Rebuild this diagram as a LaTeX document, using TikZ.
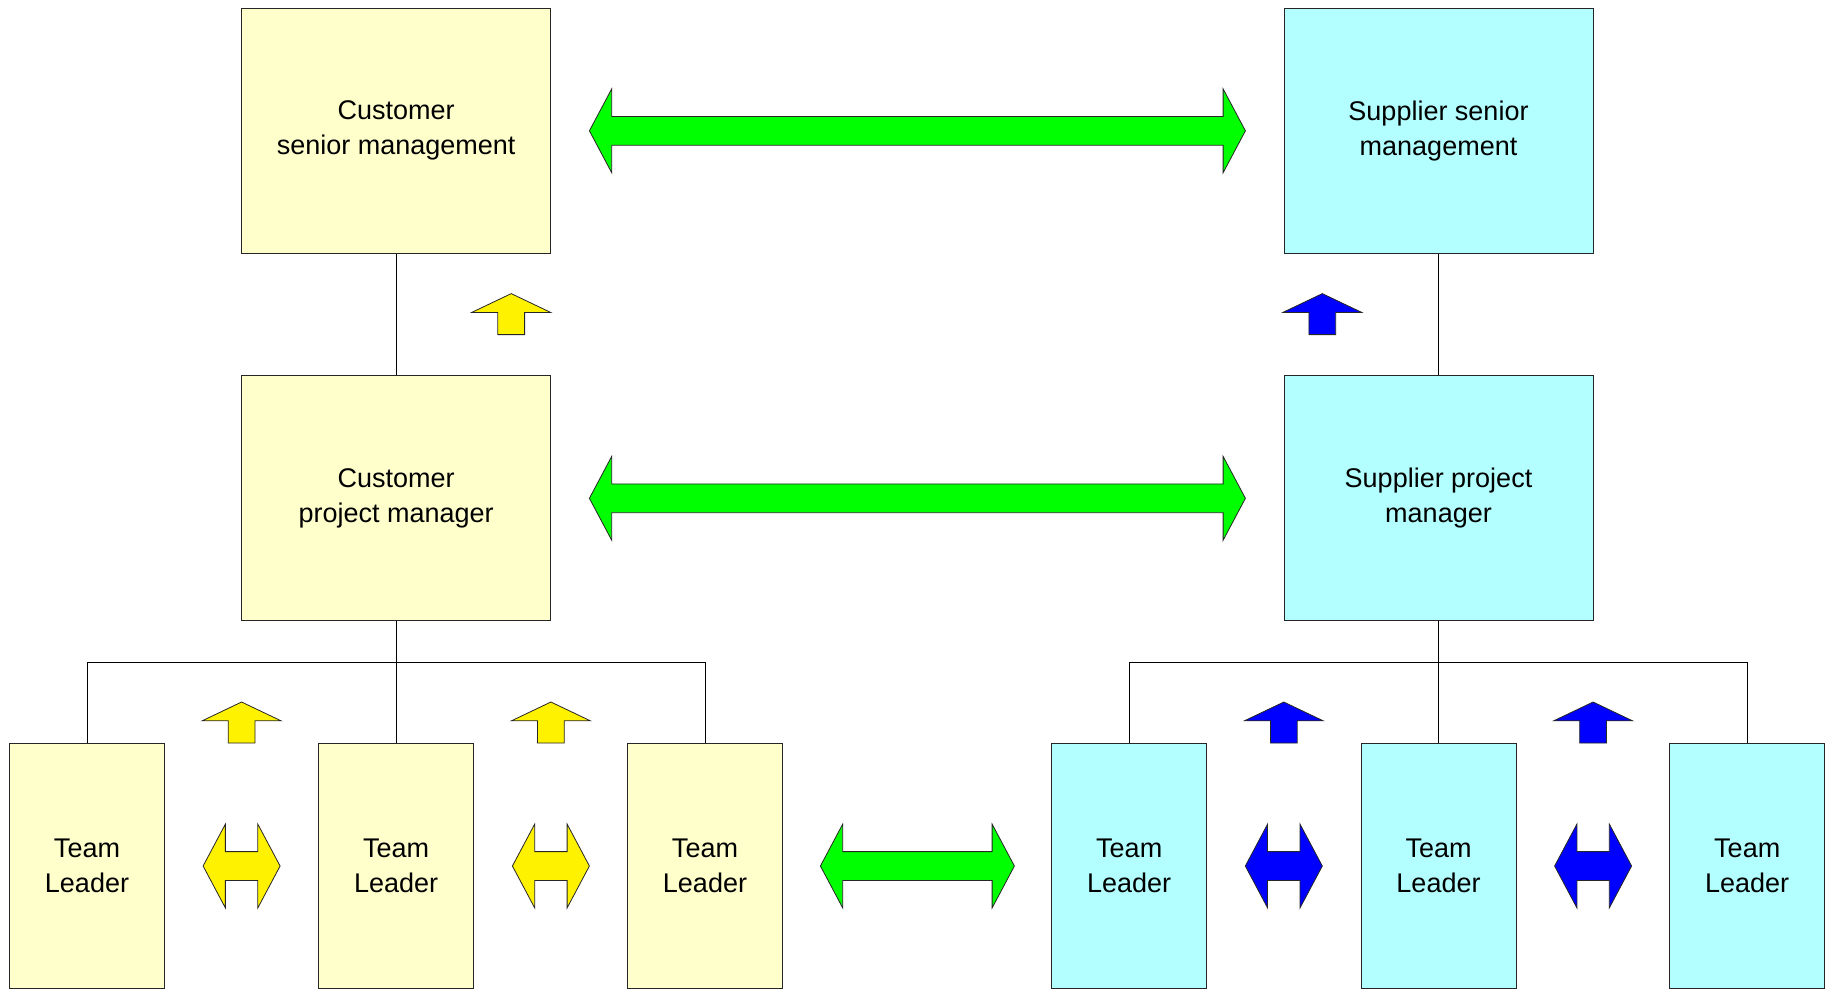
\documentclass[tikz,border=0pt]{standalone}
\usepackage{fontspec}
\setmainfont{Liberation Sans}
\usetikzlibrary{shapes.arrows}

\definecolor{custyellow}{RGB}{255,255,204}
\definecolor{supcyan}{RGB}{179,255,255}
\definecolor{arrgreen}{RGB}{0,255,0}

\tikzset{
  box/.style={draw=black!85,line width=0.8pt,inner sep=0pt,align=center,
    font=\fontsize{27}{35}\selectfont},
  bigbox/.style={box,minimum width=309pt,minimum height=245pt},
  tlbox/.style={box,minimum width=155pt,minimum height=245pt},
  twoway/.style={double arrow,draw=black!85,line width=0.8pt,inner xsep=0pt,inner ysep=14pt,
    double arrow head extend=27.5pt,double arrow tip angle=124},
  upway/.style={single arrow,draw=black!85,line width=0.8pt,inner xsep=0pt,inner ysep=13pt,rotate=90,
    anchor=tail,minimum height=41pt,single arrow head extend=26pt,single arrow tip angle=129}
}

\begin{document}
\begin{tikzpicture}[x=1pt,y=-1pt]
	\useasboundingbox (0,0) rectangle (1830,989);
	% customer side
	\node[bigbox,fill=custyellow] (csm) at (396.2,130.8) {Customer\\senior management};
	\node[bigbox,fill=custyellow] (cpm) at (396.2,498.3) {Customer\\project manager};
	\node[tlbox,fill=custyellow] (ctl1) at (87,866) {Team\\Leader};
	\node[tlbox,fill=custyellow] (ctl2) at (396.2,866) {Team\\Leader};
	\node[tlbox,fill=custyellow] (ctl3) at (705,866) {Team\\Leader};
	% supplier side
	\node[bigbox,fill=supcyan] (ssm) at (1438.5,130.8) {Supplier senior\\management};
	\node[bigbox,fill=supcyan] (spm) at (1438.5,498.3) {Supplier project\\manager};
	\node[tlbox,fill=supcyan] (stl1) at (1129.2,866) {Team\\Leader};
	\node[tlbox,fill=supcyan] (stl2) at (1438.5,866) {Team\\Leader};
	\node[tlbox,fill=supcyan] (stl3) at (1747.2,866) {Team\\Leader};

	% reporting lines
	\draw[line width=0.8pt] (csm) -- (cpm);
	\draw[line width=0.8pt] (cpm) -- (ctl2);
	\draw[line width=0.8pt] (cpm.south) -- ++(0,41.3) coordinate (cbus);
	\draw[line width=0.8pt] (ctl1.north) |- (cbus) -| (ctl3.north);
	\draw[line width=0.8pt] (ssm) -- (spm);
	\draw[line width=0.8pt] (spm) -- (stl2);
	\draw[line width=0.8pt] (spm.south) -- ++(0,41.3) coordinate (sbus);
	\draw[line width=0.8pt] (stl1.north) |- (sbus) -| (stl3.north);

	% links between the two sides
	\node[twoway,fill=arrgreen,minimum height=656pt] (topl) at (917.4,130.8) {};
	\node[twoway,fill=arrgreen,minimum height=656pt] (midl) at (917.4,498.3) {};
	\node[twoway,fill=arrgreen,minimum height=194pt] (botl) at (917.4,866) {};
	\node[twoway,fill=yellow,minimum height=77pt] (cl1) at (241.6,866) {};
	\node[twoway,fill=yellow,minimum height=77pt] (cl2) at (550.9,866) {};
	\node[twoway,fill=blue,minimum height=77pt] (sl1) at (1283.8,866) {};
	\node[twoway,fill=blue,minimum height=77pt] (sl2) at (1593.1,866) {};

	% escalation
	\node[upway,fill=yellow] (cup0) at (511.2,335) {};
	\node[upway,fill=blue] (sup0) at (1322.3,335) {};
	\node[upway,fill=yellow] (cup1) at (241.6,743.4) {};
	\node[upway,fill=yellow] (cup2) at (550.9,743.4) {};
	\node[upway,fill=blue] (sup1) at (1283.8,743.4) {};
	\node[upway,fill=blue] (sup2) at (1593.1,743.4) {};
\end{tikzpicture}
\end{document}
